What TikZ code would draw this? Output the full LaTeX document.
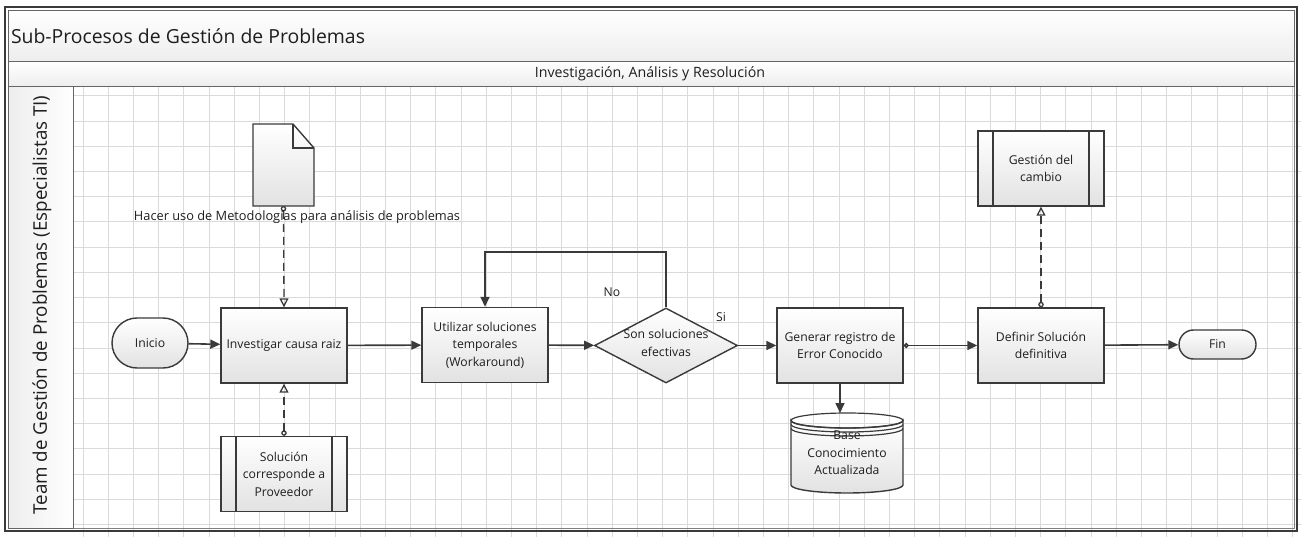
\documentclass[tikz,border=0pt]{standalone}
\usepackage{fontspec}
\setmainfont{Open Sans}
\usetikzlibrary{shapes.geometric,arrows.meta}

\definecolor{edge}{HTML}{3A3A3A}
\definecolor{ink}{HTML}{1E1E1E}
\definecolor{gridc}{HTML}{DADADA}
\definecolor{boxlow}{HTML}{E2E2E2}
\definecolor{barlow}{HTML}{EDEDED}

\tikzset{
  txt/.style={font=\fontsize{12.2}{17.5}\selectfont, text=ink, align=center},
  proc/.style={txt, draw=edge, line width=1.4pt, top color=white, bottom color=boxlow,
    minimum width=126pt, minimum height=75pt, inner sep=0pt},
  subproc/.style={proc, path picture={
    \draw[edge, line width=1.4pt]
      ([xshift=15pt]path picture bounding box.north west) -- ([xshift=15pt]path picture bounding box.south west)
      ([xshift=-15pt]path picture bounding box.north east) -- ([xshift=-15pt]path picture bounding box.south east);}},
  term/.style={txt, draw=edge, line width=1.4pt, top color=white, bottom color=boxlow, inner sep=0pt},
  decision/.style={diamond, draw=edge, line width=1.4pt, top color=white, bottom color=boxlow,
    minimum width=143pt, minimum height=75pt, inner sep=0pt, aspect=1.9},
  flow/.style={draw=edge, line width=1.6pt, -{Triangle[length=10pt,width=9pt]}},
  dotflow/.style={flow, {Circle[open,length=5pt,width=5pt]}-{Triangle[length=10pt,width=9pt]}},
  assoc/.style={draw=edge, line width=1.3pt, dash pattern=on 8pt off 5pt,
    {Circle[open,length=5.5pt,width=5.5pt]}-{Triangle[open,length=9pt,width=9pt]}},
  ghost/.style={inner sep=0pt, outer sep=0pt},
}

\begin{document}
\begin{tikzpicture}[x=1pt,y=-1pt]
\useasboundingbox (0,0) rectangle (1301,537);

% background grid of the swimlane
\foreach \i in {0,...,48}
  \draw[gridc, line width=1pt] ({83+25.2*\i},87) -- ({83+25.2*\i},537);
\foreach \j in {0,...,17}
  \draw[gridc, line width=1pt] (73,{96+25.2*\j}) -- (1301,{96+25.2*\j});

% pool frame, title bar and phase bar
\draw[edge, line width=1.8pt] (5,7) rectangle (1297,531);
\draw[gray, line width=1pt] (8,11) rectangle (1294,528);
\shade[top color=white, bottom color=barlow, draw=gray!80!black, line width=1pt]
  (8,11) rectangle (1294,62);
\shade[top color=white, bottom color=barlow, draw=gray!80!black, line width=1pt]
  (8,62) rectangle (1294,87);
\node[ghost, anchor=west, font=\fontsize{19.4}{23}\selectfont, text=ink] (title) at (11,36)
  {Sub-Procesos de Gestión de Problemas};
\node[ghost, font=\fontsize{14.2}{17}\selectfont, text=ink] (phase) at (650,74)
  {Investigación, Análisis y Resolución};

% lane header
\shade[left color=barlow, right color=white, draw=gray!80!black, line width=1pt]
  (8,87) rectangle (73,528);
\node[ghost, rotate=90, font=\fontsize{18.8}{22}\selectfont, text=ink] (lane) at (42,305)
  {Team de Gestión de Problemas (Especialistas TI)};

% flow nodes
\node[term, minimum width=76pt, minimum height=50pt, rounded corners=25pt] (ini) at (150,343) {Inicio};
\node[proc] (inv) at (284,345.5) {Investigar causa raiz};
\node[subproc] (prov) at (284,474) {Solución\\corresponde a\\Proveedor};
\node[proc] (util) at (485,345) {Utilizar soluciones\\temporales\\(Workaround)};
\node[decision] (dec) at (666,345.5) {};
\node[txt] (dectext) at (666,343) {Son soluciones\\efectivas};
\node[proc] (gen) at (840,345.5) {Generar registro de\\Error Conocido};
\node[proc] (defn) at (1041,345.5) {Definir Solución\\definitiva};
\node[subproc] (camb) at (1041,168.5) {Gestión del\\cambio};
\node[term, minimum width=77pt, minimum height=29pt, rounded corners=14.5pt] (fin) at (1217.5,344.5) {Fin};

% document symbol
\node[ghost, minimum width=61pt, minimum height=82pt] (doc) at (283.5,165) {};
\shadedraw[top color=white, bottom color=boxlow, draw=edge, line width=1.4pt]
  (doc.north west) -- ([xshift=-21pt]doc.north east) -- ([yshift=-24pt]doc.north east)
  -- (doc.south east) -- (doc.south west) -- cycle;
\draw[edge, line width=1.4pt]
  ([xshift=-21pt]doc.north east) -- ([xshift=-21pt,yshift=-24pt]doc.north east) -- ([yshift=-24pt]doc.north east);

% knowledge base store
\node[ghost, minimum width=112pt, minimum height=80pt] (db) at (847,453) {};
\shadedraw[top color=white, bottom color=boxlow, draw=edge, line width=1.4pt]
  (791,420.5) -- (791,485) arc[start angle=180, end angle=0, x radius=56, y radius=8]
  -- (903,420.5) arc[start angle=0, end angle=180, x radius=56, y radius=7.5] -- cycle;
\draw[edge, line width=1.2pt] (847,420.5) ellipse[x radius=56, y radius=7.5];
\draw[edge, line width=1.2pt] (791,424.5) arc[start angle=180, end angle=0, x radius=56, y radius=7.5];
\draw[edge, line width=1.2pt] (791,428.5) arc[start angle=180, end angle=0, x radius=56, y radius=7.5];
\node[txt] (dbtext) at (847,453) {Base\\Conocimiento\\Actualizada};

% connectors
\coordinate (loop) at (0,252);
\draw[flow] (ini) -- (inv);
\draw[flow] (inv) -- (util);
\draw[flow] (util) -- (dec);
\draw[flow] (dec) -- (gen);
\draw[flow] (dec.north) -- (dec.north |- loop) -| (util.north);
\draw[flow] (gen.south) -- (gen.south |- db.north);
\draw[dotflow] (gen.east) -- (defn.west);
\draw[flow] (defn) -- (fin);
\draw[assoc] (doc.south) -- (inv.north);
\draw[assoc] (prov.north) -- (inv.south);
\draw[assoc] (defn.north) -- (camb.south);

% labels
\node[txt, font=\fontsize{12.8}{17}\selectfont] (doclabel) at (297,217)
  {Hacer uso de Metodologías para análisis de problemas};
\node[txt] (lno) at (612,292) {No};
\node[txt] (lsi) at (721,317) {Si};
\end{tikzpicture}
\end{document}
